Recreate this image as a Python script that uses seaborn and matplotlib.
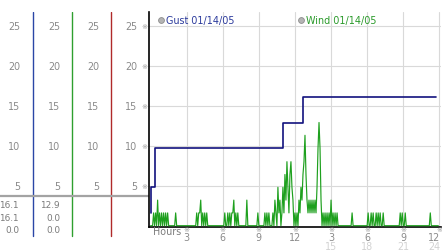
import numpy as np
import matplotlib
matplotlib.use("Agg")
import matplotlib.pyplot as plt
import matplotlib.transforms as mtransforms
import seaborn as sns

# ---------------- data ----------------
# wind speed, one value per 5 minutes (12 per hour), 24 hours
wind_values = [
    0, 0, 0, 1.6, 0, 1.6, 0, 3.2, 0, 1.6, 0, 1.6,          # 0h
    0, 1.6, 0, 1.6, 0, 1.6, 0, 0, 0, 0, 0, 0,              # 1h
    0, 1.6, 0, 0, 0, 0, 0, 0, 0, 0, 0, 0,                  # 2h
    0, 0, 0, 0, 0, 0, 0, 0, 0, 0, 1.6, 0,                  # 3h
    1.6, 1.6, 3.2, 0, 1.6, 0, 1.6, 0, 1.6, 0, 0, 0,        # 4h
    0, 0, 0, 0, 0, 0, 0, 0, 0, 0, 0, 0,                    # 5h
    0, 0, 1.6, 0, 0, 1.6, 0, 1.6, 0, 1.6, 1.6, 3.2,        # 6h
    0, 1.6, 0, 1.6, 0, 0, 0, 0, 0, 0, 0, 0,                # 7h
    3.2, 0, 0, 0, 0, 0, 0, 0, 0, 0, 0, 1.6,                # 8h
    0, 0, 0, 0, 0, 0, 1.6, 0, 1.6, 0, 1.6, 0,              # 9h
    0, 0, 1.6, 0, 3.2, 1.6, 0, 4.8, 1.6, 3.2, 0, 1.6,      # 10h
    4.8, 1.6, 6.4, 3.2, 8.0, 4.8, 1.6, 6.4, 8.0, 4.8, 3.2, 0,   # 11h
    1.6, 0, 1.6, 0, 3.2, 1.6, 4.8, 3.2, 6.4, 8.0, 11.3, 6.4,    # 12h
    3.2, 1.6, 3.2, 1.6, 3.2, 1.6, 3.2, 1.6, 3.2, 1.6, 4.8, 9.7,  # 13h
    12.9, 9.7, 3.2, 0, 1.6, 0, 1.6, 0, 1.6, 0, 1.6, 0,     # 14h
    3.2, 0, 1.6, 0, 1.6, 0, 1.6, 0, 0, 0, 0, 0,            # 15h
    0, 0, 0, 0, 0, 0, 0, 0, 0, 1.6, 0, 0,                  # 16h
    0, 0, 0, 0, 0, 0, 0, 0, 0, 0, 0, 0,                    # 17h
    0, 1.6, 0, 0, 1.6, 0, 1.6, 0, 0, 1.6, 0, 1.6,          # 18h
    0, 1.6, 0, 0, 1.6, 0, 0, 0, 0, 0, 0, 0,                # 19h
    0, 0, 0, 0, 0, 0, 0, 0, 0, 1.6, 0, 1.6,                # 20h
    0, 0, 1.6, 0, 0, 0, 0, 0, 0, 0, 0, 0,                  # 21h
    0, 0, 0, 0, 0, 0, 0, 0, 0, 0, 0, 0,                    # 22h
    0, 0, 0, 1.6, 0, 0, 0, 0, 0, 0, 0, 0,                  # 23h
]
wind_hours = np.arange(len(wind_values)) / 12.0

# gust: step changes (hour, value)
gust_hours = [0.0, 0.02, 0.37, 11.03, 12.69, 23.72]
gust_values = [1.6, 4.8, 9.7, 12.9, 16.1, 16.1]

value_ticks = [5, 10, 15, 20, 25]
hour_ticks = [3, 6, 9, 12, 15, 18, 21, 24]
hour_labels = ["3", "6", "9", "12", "3", "6", "9", "12"]
hour_labels_2 = ["", "", "", "", "15", "18", "21", "24"]

legend_gust = "Gust 01/14/05"
legend_wind = "Wind 01/14/05"
gust_stats = ["16.1", "16.1", "0.0"]
wind_stats = ["12.9", "0.0", "0.0"]

# ---------------- styling ----------------
sns.set_style("white")
plt.rcParams["font.family"] = ["DejaVu Sans"]

W, H = 442, 253
fig = plt.figure(figsize=(W / 100, H / 100), dpi=100)
fig.patch.set_facecolor("white")


def px_rect(l, t, r, b):
    return [l / W, 1 - b / H, (r - l) / W, (b - t) / H]


TOP_PX = 12.7
ZERO_PX = 226.7
PX_PER_UNIT = 8.0
ytop = (ZERO_PX - TOP_PX) / PX_PER_UNIT

# main axes
ax = fig.add_axes(px_rect(149, TOP_PX, 441, 227.5))
ax.set_xlim(-0.133, 24.14)
ax.set_ylim(-(227.5 - ZERO_PX) / PX_PER_UNIT, ytop)
ax.set_xticks(hour_ticks)
ax.set_yticks(value_ticks)
ax.grid(True, color="#d9d9d9", lw=0.8)
ax.set_axisbelow(True)
ax.tick_params(length=0, labelbottom=False, labelleft=False)
for s in ["top", "right"]:
    ax.spines[s].set_visible(False)
for s in ["left", "bottom"]:
    ax.spines[s].set_color("black")
    ax.spines[s].set_linewidth(1.2)

sns.lineplot(x=gust_hours, y=gust_values, ax=ax, color="#12127e",
             linewidth=1.2, drawstyle="steps-post", estimator=None, zorder=3)
sns.lineplot(x=wind_hours, y=wind_values, ax=ax, color="#1ea01e",
             linewidth=0.85, estimator=None, zorder=4)
ax.set_xlabel("")
ax.set_ylabel("")

MARK = dict(fontsize=5.2, color="#9c9c9c", ha="center", va="center")

# x tick labels (manual, two rows); the last one is nudged inside the picture
trans_x = mtransforms.blended_transform_factory(ax.transData, fig.transFigure)
for k, (h, l1, l2) in enumerate(zip(hour_ticks, hour_labels, hour_labels_2)):
    xl = h - 0.42 if k == len(hour_ticks) - 1 else h
    ax.text(h, 1 - 230 / H, "※", transform=trans_x, clip_on=False, **MARK)
    ax.text(xl, 1 - 238.5 / H, l1, transform=trans_x, ha="center", va="center",
            fontsize=6.9, color="#8a8a8a", clip_on=False)
    if l2:
        ax.text(xl, 1 - 247.5 / H, l2, transform=trans_x, ha="center", va="center",
                fontsize=6.9, color="#d2d2d2", clip_on=False)
fig.text(153 / W, 1 - 232 / H, "Hours", ha="left", va="center",
         fontsize=6.9, color="#7c7c7c")

# legend-like labels
for cx, txt, col in [(161, legend_gust, "#2b3a9c"), (301, legend_wind, "#2a9a2a")]:
    ax.plot([cx / W], [1 - 20.7 / H], "o", transform=fig.transFigure, clip_on=False,
            ms=4.2, mfc="#b4b4b4", mec="#8c8c8c", mew=0.6)
    fig.text((cx + 5) / W, 1 - 20.7 / H, txt, ha="left", va="center",
             fontsize=6.9, color=col)

# left panel
axl = fig.add_axes(px_rect(0, TOP_PX, 149, 242), zorder=-1)
axl.axis("off")
axl.set_xlim(0, 149)
axl.set_ylim(-(242 - ZERO_PX) / PX_PER_UNIT, ytop)
line_bottom = -(237 - ZERO_PX) / PX_PER_UNIT
for xc, col in [(33, "#2a46a6"), (72, "#2f9f2f"), (111, "#b02a2a")]:
    axl.plot([xc, xc], [line_bottom, ytop], color=col, lw=1.0)
axl.axhline(3.75, color="#a3a3a3", lw=1.6)

for xr in [20, 60, 99, 137]:
    for v in value_ticks:
        axl.text(xr, v, str(v), ha="right", va="center", fontsize=6.9,
                 color="#8a8a8a")
for v in value_ticks:
    axl.text(144, v, "※", **MARK)

stat_rows_px = [205.7, 218.3, 230.7]
for xr, stats in [(19, gust_stats), (60, wind_stats)]:
    for ypx, s in zip(stat_rows_px, stats):
        axl.text(xr, (ZERO_PX - ypx) / PX_PER_UNIT, s, ha="right", va="center",
                 fontsize=6.4, color="#7a7a7a")

fig.savefig("out.png", dpi=100)
